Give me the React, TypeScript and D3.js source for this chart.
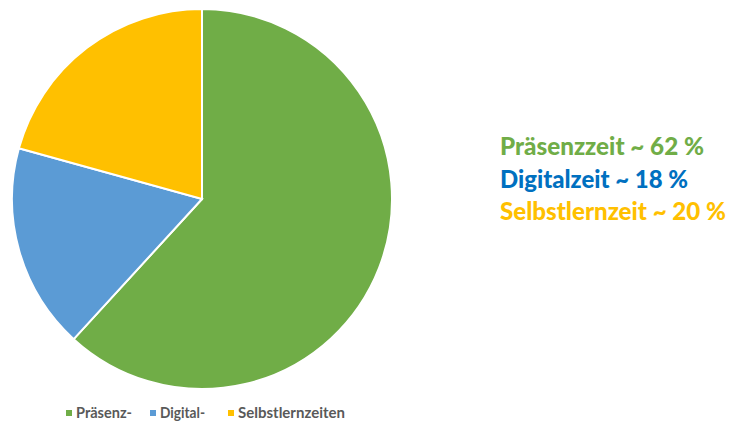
import React from "react";
import * as d3 from "d3";

const categories = ["Präsenz-", "Digital-", "Selbstlernzeiten"];
const values = [61.8, 17.5, 20.7];
const colors = ["#70AD47", "#5B9BD5", "#FFC000"];
const annotations = ["Präsenzzeit ~ 62 %", "Digitalzeit ~ 18 %", "Selbstlernzeit ~ 20 %"];
const annotationColors = ["#70AD47", "#0070C0", "#FFC000"];

export default function App() {
  const W = 733, H = 423;
  const cx = 202, cy = 199, r = 190;
  const pie = d3.pie<number>().sort(null).value((d) => d);
  const arcs = pie(values);
  const arc = d3.arc<d3.PieArcDatum<number>>().innerRadius(0).outerRadius(r);
  const legendX = [66, 150, 228];
  const legendW = [56, 45, 107];
  return (
    <svg width={W} height={H} style={{ position: "absolute", left: 0, top: 0, background: "#fff" }}>
      <g transform={`translate(${cx},${cy})`}>
        {arcs.map((a, i) => (
          <path key={i} d={arc(a) || ""} fill={colors[i]} stroke="#fff" strokeWidth={2} />
        ))}
      </g>
      {annotations.map((t, i) => (
        <text key={i} x={500} y={155 + i * 32.5} fill={annotationColors[i]}
          fontFamily="Lato, 'Open Sans', sans-serif" fontWeight="900" fontSize={25}
          textLength={[204, 188, 226][i]} lengthAdjust="spacingAndGlyphs">{t}</text>
      ))}
      {categories.map((c, i) => (
        <g key={i}>
          <rect x={legendX[i]} y={410} width={6} height={6} fill={colors[i]} />
          <text x={legendX[i] + 10} y={418} fill="#595959" fontFamily="Lato, 'Open Sans', sans-serif"
            fontWeight="bold" fontSize={15} textLength={legendW[i]} lengthAdjust="spacingAndGlyphs">{c}</text>
        </g>
      ))}
    </svg>
  );
}
